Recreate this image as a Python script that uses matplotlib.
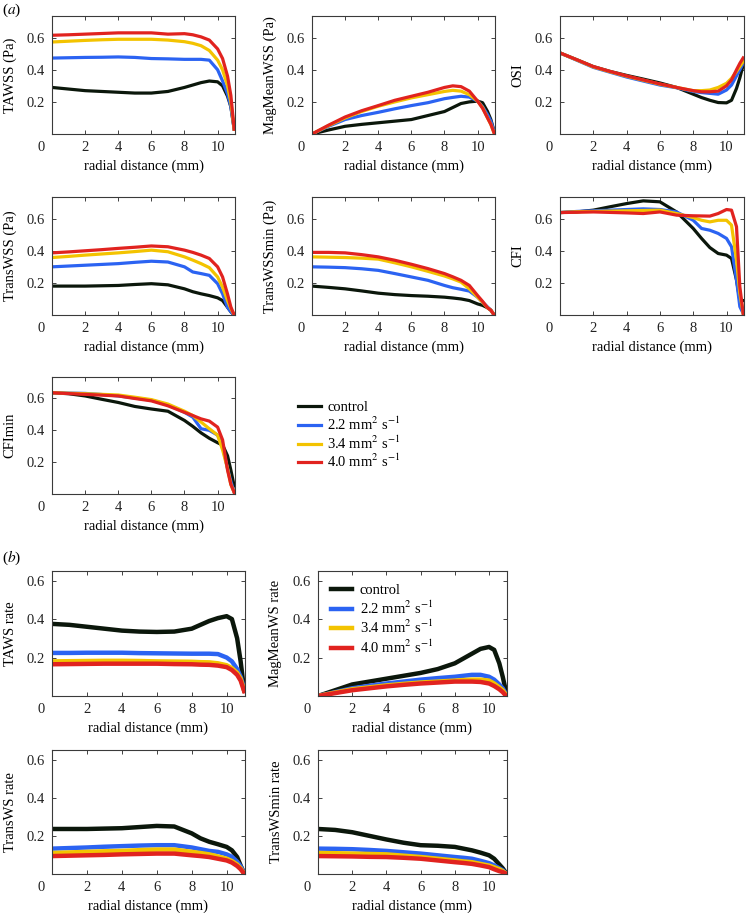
import matplotlib.pyplot as plt
import matplotlib.transforms as mtransforms

plt.rcParams['font.family'] = ['Liberation Serif', 'DejaVu Serif']
plt.rcParams['mathtext.fontset'] = 'stix'
plt.rcParams['font.size'] = 10.5

W, H = 746, 913

# radial positions (mm) shared by every curve
radial = [0, 1, 2, 3, 4, 5, 6, 7, 8, 8.5, 9, 9.5, 10, 10.3, 10.6, 10.8, 11]

series_labels = ['control', '2.2 mm$^{2}$ s$^{-1}$', '3.4 mm$^{2}$ s$^{-1}$', '4.0 mm$^{2}$ s$^{-1}$']
series_colors = ['#0b170b', '#2b63f2', '#f3c300', '#e1231f']

# (a) wall shear stress metrics: control, 2.2, 3.4, 4.0
tawss = [
    [0.29, 0.28, 0.27, 0.265, 0.26, 0.255, 0.255, 0.265, 0.29, 0.305, 0.32, 0.33, 0.325, 0.30, 0.235, 0.17, 0.03],
    [0.473, 0.475, 0.477, 0.478, 0.48, 0.477, 0.47, 0.468, 0.465, 0.465, 0.465, 0.46, 0.40, 0.33, 0.25, 0.17, 0.03],
    [0.573, 0.578, 0.583, 0.587, 0.59, 0.59, 0.59, 0.585, 0.575, 0.565, 0.55, 0.52, 0.46, 0.40, 0.30, 0.20, 0.03],
    [0.615, 0.618, 0.622, 0.626, 0.63, 0.63, 0.63, 0.622, 0.625, 0.618, 0.605, 0.585, 0.53, 0.47, 0.36, 0.24, 0.03],
]
magmeanwss = [
    [0, 0.025, 0.048, 0.06, 0.07, 0.08, 0.09, 0.115, 0.14, 0.165, 0.19, 0.20, 0.205, 0.195, 0.14, 0.09, 0.015],
    [0, 0.048, 0.09, 0.115, 0.135, 0.157, 0.177, 0.195, 0.22, 0.228, 0.235, 0.23, 0.205, 0.17, 0.12, 0.08, 0.015],
    [0, 0.052, 0.10, 0.14, 0.173, 0.20, 0.225, 0.245, 0.265, 0.272, 0.267, 0.245, 0.205, 0.165, 0.10, 0.06, 0.005],
    [0, 0.055, 0.106, 0.145, 0.177, 0.21, 0.235, 0.26, 0.29, 0.30, 0.295, 0.267, 0.205, 0.16, 0.10, 0.06, 0.005],
]
osi = [
    [0.505, 0.463, 0.42, 0.39, 0.365, 0.342, 0.318, 0.29, 0.248, 0.227, 0.21, 0.196, 0.194, 0.21, 0.284, 0.35, 0.43],
    [0.505, 0.46, 0.415, 0.385, 0.355, 0.33, 0.305, 0.288, 0.265, 0.258, 0.253, 0.248, 0.274, 0.305, 0.362, 0.40, 0.44],
    [0.505, 0.462, 0.418, 0.388, 0.36, 0.335, 0.31, 0.29, 0.27, 0.27, 0.274, 0.29, 0.316, 0.347, 0.39, 0.42, 0.452],
    [0.505, 0.463, 0.42, 0.39, 0.362, 0.337, 0.312, 0.29, 0.27, 0.263, 0.263, 0.267, 0.30, 0.337, 0.40, 0.44, 0.474],
]
transwss = [
    [0.18, 0.18, 0.18, 0.182, 0.184, 0.19, 0.195, 0.188, 0.163, 0.145, 0.132, 0.121, 0.107, 0.09, 0.048, 0.02, 0],
    [0.30, 0.305, 0.31, 0.315, 0.32, 0.328, 0.335, 0.33, 0.30, 0.268, 0.258, 0.247, 0.195, 0.132, 0.048, 0.02, 0],
    [0.358, 0.365, 0.373, 0.38, 0.387, 0.395, 0.404, 0.394, 0.362, 0.342, 0.32, 0.295, 0.237, 0.174, 0.09, 0.04, 0],
    [0.387, 0.393, 0.40, 0.407, 0.415, 0.422, 0.43, 0.425, 0.404, 0.39, 0.373, 0.352, 0.30, 0.237, 0.13, 0.05, 0],
]
transwssmin = [
    [0.18, 0.172, 0.163, 0.15, 0.136, 0.127, 0.121, 0.117, 0.111, 0.106, 0.10, 0.09, 0.069, 0.06, 0.045, 0.03, 0],
    [0.30, 0.298, 0.295, 0.288, 0.278, 0.258, 0.237, 0.216, 0.184, 0.17, 0.16, 0.149, 0.111, 0.08, 0.05, 0.03, 0],
    [0.362, 0.36, 0.358, 0.354, 0.348, 0.325, 0.30, 0.272, 0.243, 0.225, 0.205, 0.163, 0.111, 0.08, 0.045, 0.03, 0],
    [0.39, 0.39, 0.387, 0.376, 0.362, 0.341, 0.316, 0.289, 0.258, 0.238, 0.216, 0.184, 0.121, 0.085, 0.045, 0.03, 0],
]
cfi = [
    [0.638, 0.642, 0.653, 0.674, 0.694, 0.711, 0.705, 0.642, 0.539, 0.477, 0.42, 0.383, 0.373, 0.352, 0.218, 0.093, 0.09],
    [0.638, 0.645, 0.649, 0.653, 0.657, 0.661, 0.657, 0.642, 0.59, 0.539, 0.528, 0.508, 0.477, 0.425, 0.218, 0.052, 0.01],
    [0.638, 0.643, 0.645, 0.647, 0.649, 0.651, 0.653, 0.632, 0.607, 0.59, 0.58, 0.59, 0.59, 0.56, 0.342, 0.135, 0.01],
    [0.638, 0.64, 0.642, 0.639, 0.636, 0.632, 0.642, 0.622, 0.618, 0.617, 0.616, 0.632, 0.657, 0.653, 0.55, 0.176, 0.01],
]
cfimin = [
    [0.636, 0.63, 0.616, 0.595, 0.575, 0.55, 0.534, 0.52, 0.462, 0.425, 0.384, 0.35, 0.322, 0.308, 0.24, 0.15, 0.05],
    [0.636, 0.634, 0.632, 0.625, 0.616, 0.603, 0.589, 0.56, 0.513, 0.483, 0.41, 0.40, 0.37, 0.298, 0.16, 0.08, 0.01],
    [0.636, 0.633, 0.63, 0.626, 0.622, 0.608, 0.593, 0.565, 0.52, 0.493, 0.452, 0.41, 0.37, 0.277, 0.16, 0.06, 0.01],
    [0.636, 0.631, 0.626, 0.621, 0.616, 0.6, 0.585, 0.554, 0.513, 0.493, 0.472, 0.458, 0.42, 0.34, 0.15, 0.06, 0.01],
]

# (b) shear rate metrics
taws_rate = [
    [0.375, 0.37, 0.36, 0.35, 0.34, 0.335, 0.333, 0.335, 0.35, 0.37, 0.39, 0.405, 0.415, 0.40, 0.30, 0.18, 0.03],
    [0.224, 0.224, 0.225, 0.225, 0.225, 0.223, 0.222, 0.221, 0.22, 0.22, 0.22, 0.218, 0.20, 0.18, 0.14, 0.10, 0.04],
    [0.18, 0.181, 0.182, 0.183, 0.183, 0.182, 0.18, 0.179, 0.178, 0.176, 0.175, 0.17, 0.16, 0.145, 0.12, 0.09, 0.03],
    [0.165, 0.166, 0.167, 0.168, 0.168, 0.168, 0.168, 0.166, 0.165, 0.163, 0.162, 0.158, 0.15, 0.135, 0.11, 0.08, 0.025],
]
magmeanws_rate = [
    [0, 0.03, 0.06, 0.075, 0.09, 0.105, 0.12, 0.14, 0.17, 0.195, 0.22, 0.245, 0.255, 0.24, 0.17, 0.10, 0.02],
    [0, 0.02, 0.04, 0.053, 0.065, 0.075, 0.085, 0.093, 0.10, 0.105, 0.11, 0.11, 0.10, 0.085, 0.06, 0.04, 0.01],
    [0, 0.018, 0.035, 0.045, 0.055, 0.063, 0.07, 0.075, 0.08, 0.083, 0.085, 0.085, 0.08, 0.065, 0.045, 0.03, 0.005],
    [0, 0.015, 0.03, 0.04, 0.05, 0.058, 0.065, 0.07, 0.075, 0.075, 0.075, 0.073, 0.065, 0.052, 0.035, 0.02, 0],
]
transws_rate = [
    [0.236, 0.236, 0.236, 0.238, 0.24, 0.246, 0.252, 0.249, 0.213, 0.187, 0.169, 0.156, 0.142, 0.124, 0.089, 0.044, 0.004],
    [0.133, 0.136, 0.139, 0.143, 0.146, 0.149, 0.151, 0.151, 0.139, 0.13, 0.121, 0.116, 0.103, 0.09, 0.065, 0.04, 0.004],
    [0.11, 0.113, 0.116, 0.119, 0.121, 0.125, 0.128, 0.128, 0.116, 0.11, 0.103, 0.092, 0.08, 0.068, 0.05, 0.03, 0.002],
    [0.094, 0.096, 0.098, 0.1, 0.103, 0.105, 0.107, 0.107, 0.098, 0.094, 0.089, 0.08, 0.071, 0.06, 0.042, 0.025, 0.002],
]
transwsmin_rate = [
    [0.236, 0.231, 0.219, 0.20, 0.181, 0.164, 0.151, 0.148, 0.142, 0.133, 0.124, 0.112, 0.098, 0.08, 0.05, 0.03, 0.004],
    [0.133, 0.132, 0.13, 0.126, 0.121, 0.114, 0.107, 0.098, 0.089, 0.085, 0.08, 0.069, 0.057, 0.045, 0.03, 0.02, 0.002],
    [0.11, 0.109, 0.107, 0.105, 0.103, 0.096, 0.089, 0.08, 0.071, 0.066, 0.062, 0.053, 0.044, 0.035, 0.025, 0.015, 0.002],
    [0.094, 0.093, 0.092, 0.09, 0.089, 0.085, 0.08, 0.071, 0.062, 0.058, 0.053, 0.045, 0.036, 0.025, 0.015, 0.01, 0.002],
]


def add_panel(fig, box, curves, ylabel, ymax, lw):
    """Draw one profile panel; box is (left, top, right, bottom) in pixels."""
    l, t, r, b = box
    ax = fig.add_axes([l / W, 1 - b / H, (r - l) / W, (b - t) / H])
    for vals, c, lab in zip(curves, series_colors, series_labels):
        ax.plot(radial, vals, color=c, lw=lw, label=lab, solid_joinstyle='round')
    ax.set_xlim(0, 11.05)
    ax.set_ylim(0, ymax)
    ax.set_xticks([0, 2, 4, 6, 8, 10])
    ax.set_yticks([0.2, 0.4, 0.6])
    ax.set_yticklabels(['0.2', '0.4', '0.6'])
    ax.tick_params(direction='in', top=True, right=True, length=3, width=0.6,
                   pad=5, labelsize=10.5, colors='#222222')
    # the zero label sits left of the axis corner in the original
    shift = mtransforms.ScaledTranslation(-11 / 100, 0, fig.dpi_scale_trans)
    lab0 = ax.xaxis.get_major_ticks()[0].label1
    lab0.set_transform(lab0.get_transform() + shift)
    ax.set_xlabel('radial distance (mm)', labelpad=4)
    ax.set_ylabel(ylabel, va='center')
    ax.yaxis.set_label_coords(-42 / (r - l), 0.5)
    for s in ax.spines.values():
        s.set_color('#3a3a3a')
        s.set_linewidth(0.8)
    return ax


fig = plt.figure(figsize=(W / 100, H / 100), dpi=100)

ya = 0.735
ax1 = add_panel(fig, (52, 16, 235, 134), tawss, 'TAWSS (Pa)', ya, 2.3)
add_panel(fig, (312, 16, 495, 134), magmeanwss, 'MagMeanWSS (Pa)', ya, 2.3)
add_panel(fig, (560, 16, 744, 134), osi, 'OSI', ya, 2.3)
add_panel(fig, (52, 197, 235, 315), transwss, 'TransWSS (Pa)', ya, 2.3)
add_panel(fig, (312, 197, 495, 315), transwssmin, 'TransWSSmin (Pa)', ya, 2.3)
add_panel(fig, (560, 197, 744, 315), cfi, 'CFI', ya, 2.3)
add_panel(fig, (52, 377, 235, 494), cfimin, 'CFImin', ya, 2.3)

handles, labels = ax1.get_legend_handles_labels()
fig.legend(handles, labels, loc='upper left', bbox_to_anchor=(298 / W, 1 - 401 / H),
           frameon=False, handlelength=1.6, handletextpad=0.4, labelspacing=0.1,
           borderpad=0, borderaxespad=0, fontsize=10.5)

yb = 0.65
add_panel(fig, (52, 571, 245, 696), taws_rate, 'TAWS rate', yb, 3.2)
axm = add_panel(fig, (318, 571, 507, 696), magmeanws_rate, 'MagMeanWS rate', yb, 3.2)
add_panel(fig, (52, 750, 245, 874), transws_rate, 'TransWS rate', yb, 3.2)
add_panel(fig, (318, 750, 507, 874), transwsmin_rate, 'TransWSmin rate', yb, 3.2)

axm.legend(loc='upper left', frameon=False, handlelength=1.4, handletextpad=0.55,
           labelspacing=0.15, borderaxespad=0.5, fontsize=10.5)

fig.text(2 / W, 1 - 10 / H, '($a$)', fontsize=11, va='center')
fig.text(2 / W, 1 - 558 / H, '($b$)', fontsize=11, va='center')

fig.savefig('out.png', dpi=100)
